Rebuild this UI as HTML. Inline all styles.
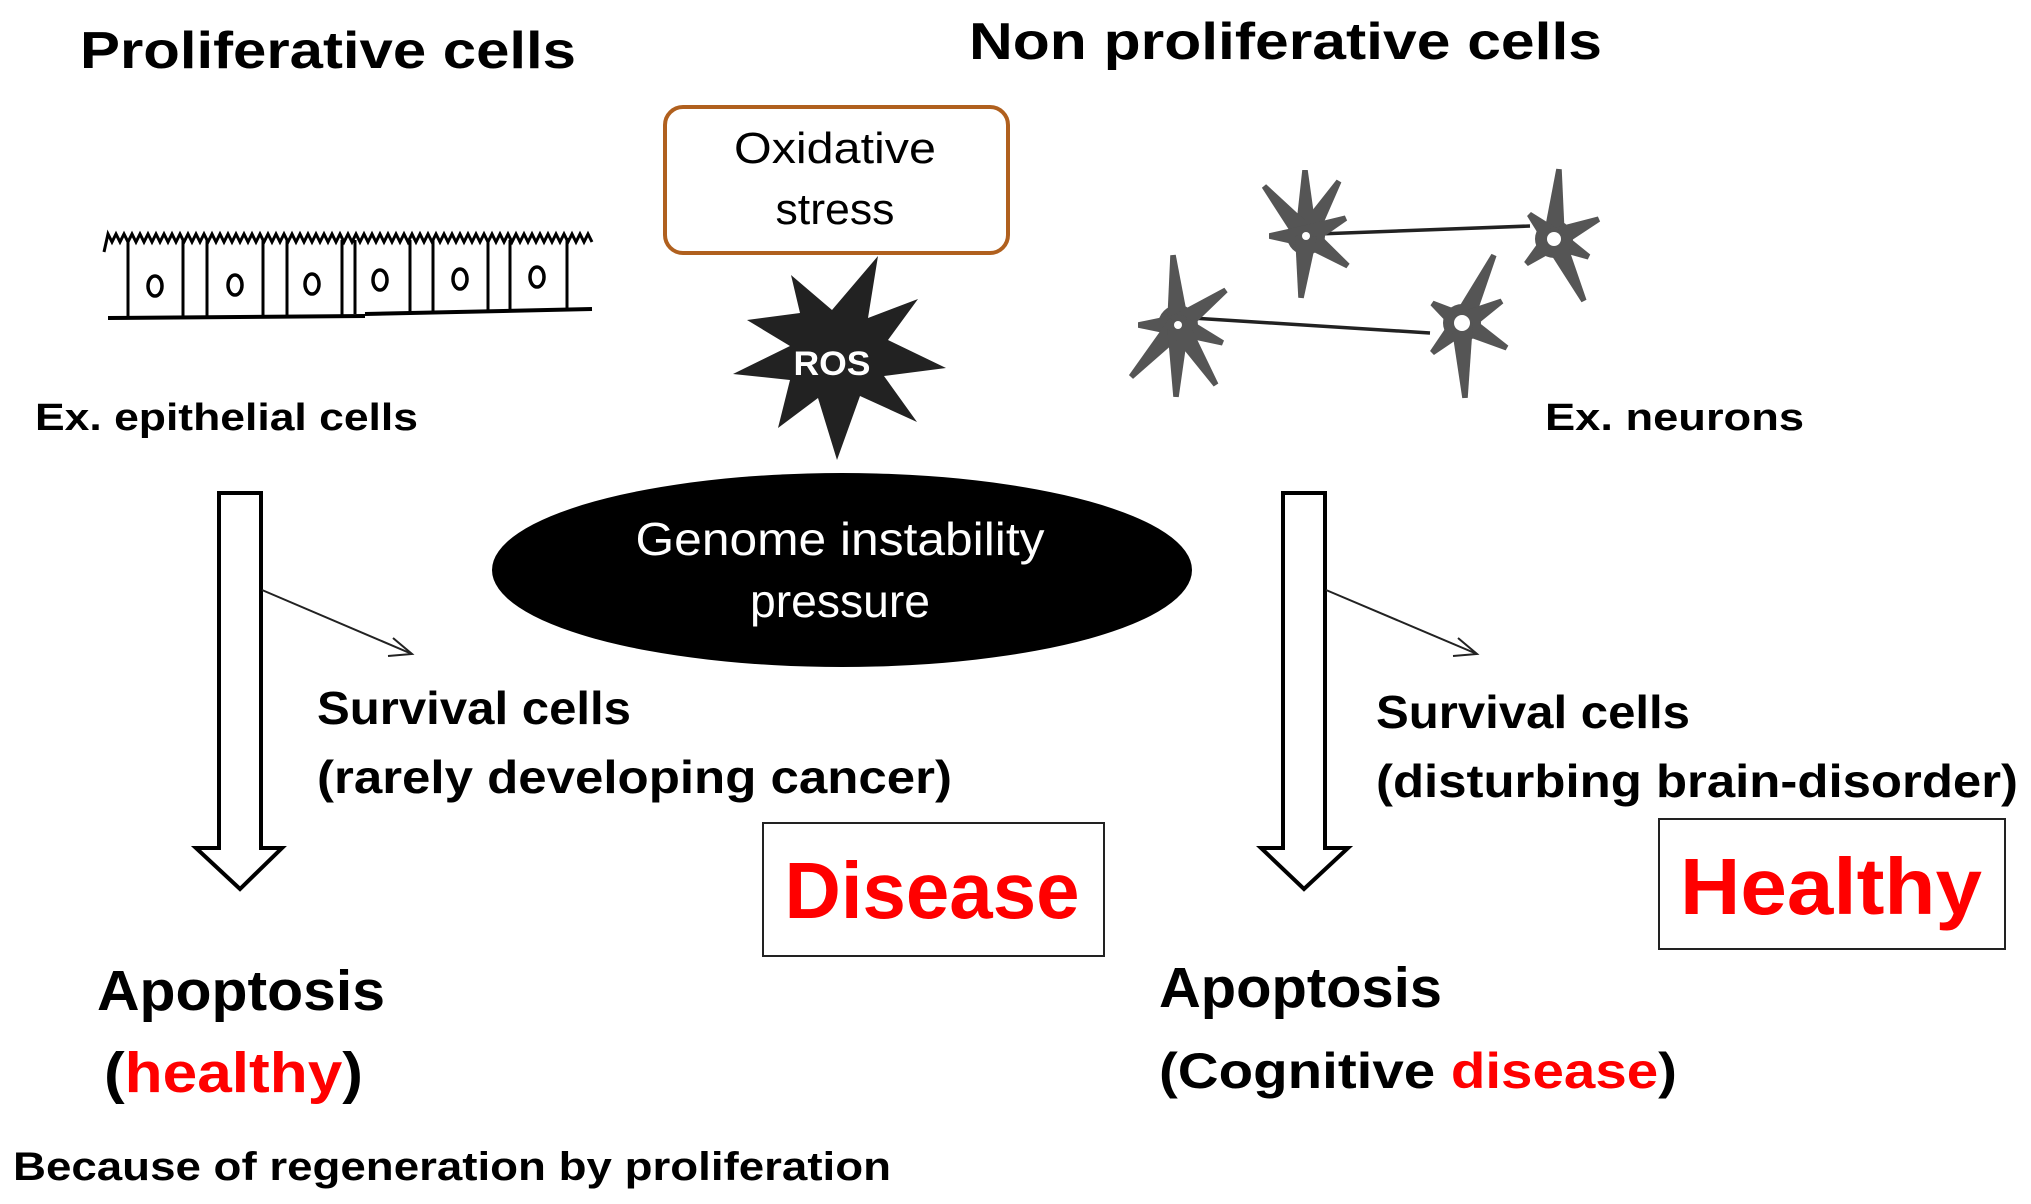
<!DOCTYPE html>
<html><head><meta charset="utf-8"><style>
html,body{margin:0;padding:0;background:#fff;width:2031px;height:1204px;overflow:hidden}
svg{display:block}
text{font-family:"Liberation Sans",sans-serif}
</style></head><body>
<svg id="s" width="2031" height="1204" viewBox="0 0 2031 1204" xmlns="http://www.w3.org/2000/svg">
<text x="80" y="68" font-size="52" font-weight="bold" textLength="496" lengthAdjust="spacingAndGlyphs">Proliferative cells</text>
<text x="969" y="59" font-size="52" font-weight="bold" textLength="633" lengthAdjust="spacingAndGlyphs">Non proliferative cells</text>

<rect x="665" y="107" width="343" height="146" rx="18" fill="#fff" stroke="#b0601e" stroke-width="4"/>
<text x="835" y="163" font-size="44" text-anchor="middle" textLength="202" lengthAdjust="spacingAndGlyphs">Oxidative</text>
<text x="835" y="224" font-size="44" text-anchor="middle" textLength="119" lengthAdjust="spacingAndGlyphs">stress</text>

<polygon fill="#222" points="878,256 868,318 918,299 888,340 946,368 884,376 917,422 860,396 837,460 818,398 778,428 790,380 733,374 790,346 747,320 800,313 791,275 832,310"/>
<text x="832" y="375" font-size="34" font-weight="bold" fill="#fff" text-anchor="middle" textLength="77" lengthAdjust="spacingAndGlyphs">ROS</text>

<ellipse cx="842" cy="570" rx="350" ry="97" fill="#000"/>
<text x="840" y="555" font-size="46" fill="#fff" text-anchor="middle" textLength="409" lengthAdjust="spacingAndGlyphs">Genome instability</text>
<text x="840" y="617" font-size="46" fill="#fff" text-anchor="middle" textLength="180" lengthAdjust="spacingAndGlyphs">pressure</text>

<g stroke="#000" stroke-width="3" fill="none">
<path id="wave" d=""/>
<line x1="108" y1="318" x2="365" y2="316" stroke-width="4"/>
<line x1="365" y1="314" x2="592" y2="309" stroke-width="4"/>
<g stroke-width="3">
<line x1="128" y1="240" x2="128" y2="317"/><line x1="183" y1="240" x2="183" y2="317"/>
<line x1="207" y1="240" x2="207" y2="317"/><line x1="263" y1="240" x2="263" y2="317"/>
<line x1="287" y1="240" x2="287" y2="316"/><line x1="342" y1="240" x2="342" y2="315"/>
<line x1="355" y1="240" x2="355" y2="314"/><line x1="410" y1="240" x2="410" y2="312"/>
<line x1="433" y1="240" x2="433" y2="311"/><line x1="488" y1="240" x2="488" y2="310"/>
<line x1="510" y1="240" x2="510" y2="310"/><line x1="567" y1="238" x2="567" y2="309"/>
</g>
<g stroke-width="3.5">
<ellipse cx="155" cy="286" rx="7" ry="10"/><ellipse cx="235" cy="285" rx="7" ry="10"/>
<ellipse cx="312" cy="284" rx="7" ry="10"/><ellipse cx="380" cy="280" rx="7" ry="10"/>
<ellipse cx="460" cy="279" rx="7" ry="10"/><ellipse cx="537" cy="277" rx="7" ry="10"/>
</g>
</g>
<text x="35" y="430" font-size="38" font-weight="bold" textLength="383" lengthAdjust="spacingAndGlyphs">Ex. epithelial cells</text>
<text x="1545" y="430" font-size="38" font-weight="bold" textLength="259" lengthAdjust="spacingAndGlyphs">Ex. neurons</text>

<g stroke="#222" stroke-width="3.5">
<line x1="1318" y1="234" x2="1530" y2="226"/>
<line x1="1192" y1="318" x2="1430" y2="333"/>
</g>
<g id="neur" fill="#555" stroke="none"></g>

<polygon points="219,493 261,493 261,848 282,848 240,889 196,848 219,848" fill="#fff" stroke="#000" stroke-width="4"/>
<polygon points="1283,493 1325,493 1325,848 1348,848 1304,889 1261,848 1283,848" fill="#fff" stroke="#000" stroke-width="4"/>
<g stroke="#222" stroke-width="2" fill="none">
<line x1="262" y1="590" x2="412" y2="654"/><polyline points="393,638 412,654 388,656"/>
<line x1="1326" y1="590" x2="1477" y2="654"/><polyline points="1458,638 1477,654 1453,656"/>
</g>

<g font-size="46" font-weight="bold">
<text x="317" y="724" textLength="314" lengthAdjust="spacingAndGlyphs">Survival cells</text>
<text x="317" y="793" textLength="635" lengthAdjust="spacingAndGlyphs">(rarely developing cancer)</text>
<text x="1376" y="728" textLength="314" lengthAdjust="spacingAndGlyphs">Survival cells</text>
<text x="1376" y="797" textLength="642" lengthAdjust="spacingAndGlyphs">(disturbing brain-disorder)</text>
</g>

<rect x="763" y="823" width="341" height="133" fill="#fff" stroke="#222" stroke-width="2"/>
<text x="932" y="918" font-size="80" font-weight="bold" fill="#f00" text-anchor="middle" textLength="295" lengthAdjust="spacingAndGlyphs">Disease</text>
<rect x="1659" y="819" width="346" height="130" fill="#fff" stroke="#222" stroke-width="2"/>
<text x="1831" y="914" font-size="80" font-weight="bold" fill="#f00" text-anchor="middle" textLength="302" lengthAdjust="spacingAndGlyphs">Healthy</text>

<text x="97" y="1010" font-size="57" font-weight="bold" textLength="288" lengthAdjust="spacingAndGlyphs">Apoptosis</text>
<text x="104" y="1092" font-size="57" font-weight="bold" textLength="259" lengthAdjust="spacingAndGlyphs">(<tspan fill="#f00">healthy</tspan>)</text>
<text x="13" y="1180" font-size="40" font-weight="bold" textLength="878" lengthAdjust="spacingAndGlyphs">Because of regeneration by proliferation</text>
<text x="1159" y="1007" font-size="57" font-weight="bold" textLength="283" lengthAdjust="spacingAndGlyphs">Apoptosis</text>
<text x="1159" y="1088" font-size="50" font-weight="bold" textLength="518" lengthAdjust="spacingAndGlyphs">(Cognitive <tspan fill="#f00">disease</tspan>)</text>
</svg>
<script>
(function(){
var ns="http://www.w3.org/2000/svg";
var d="M104,252";var x=104;var up=true;
while(x<590){x+=4;d+=" L"+x+","+(up?234:242);up=!up;}
document.getElementById("wave").setAttribute("d",d);
var g=document.getElementById("neur");
function neuron(cx,cy,tips,r,hole){
  var c=document.createElementNS(ns,"circle");
  c.setAttribute("cx",cx);c.setAttribute("cy",cy);c.setAttribute("r",r);g.appendChild(c);
  tips.forEach(function(t){
    var tx=cx+t[0],ty=cy+t[1];var dx=t[0],dy=t[1];var L=Math.sqrt(dx*dx+dy*dy);
    var px=-dy/L*11,py=dx/L*11;
    var p=document.createElementNS(ns,"polygon");
    p.setAttribute("points",(cx+px)+","+(cy+py)+" "+(tx+px*0.25)+","+(ty+py*0.25)+" "+(tx-px*0.25)+","+(ty-py*0.25)+" "+(cx-px)+","+(cy-py));
    g.appendChild(p);
  });
  var h=document.createElementNS(ns,"circle");
  h.setAttribute("cx",cx);h.setAttribute("cy",cy);h.setAttribute("r",hole);h.setAttribute("fill","#fff");g.appendChild(h);
}
neuron(1306,236,[[-1,-66],[-42,-50],[33,-55],[40,-18],[-37,0],[42,30],[-5,62]],19,4);
neuron(1554,239,[[5,-70],[-25,-25],[45,-20],[35,18],[-28,25],[30,62]],19,7);
neuron(1178,325,[[-5,-70],[48,-35],[-40,0],[45,18],[-47,52],[-2,72],[38,60]],20,4);
neuron(1462,323,[[32,-68],[-30,-20],[40,-22],[45,25],[-30,30],[3,75]],19,8);
})();
</script>
</body></html>
